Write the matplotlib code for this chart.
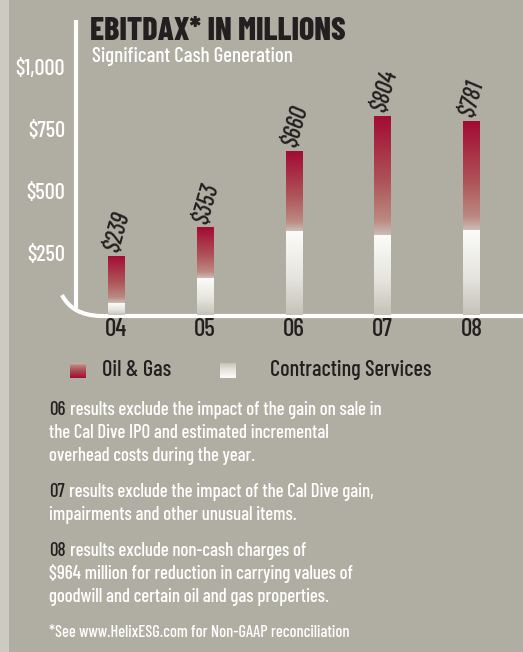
import matplotlib
matplotlib.use("Agg")
import matplotlib.pyplot as plt
from matplotlib.colors import LinearSegmentedColormap
from matplotlib.path import Path
from matplotlib.patches import PathPatch, Rectangle
import numpy as np

# ---- data
years = ["04", "05", "06", "07", "08"]
totals = [239, 353, 660, 804, 781]
contracting = [48, 149, 339, 323, 343]
oil_gas = [t - c for t, c in zip(totals, contracting)]
ytick_vals = [250, 500, 750, 1000]
ytick_labels = ["$250", "$500", "$750", "$1,000"]

BG = "#b0aea2"
STRIP = "#cdcbc1"
DARK = "#231f20"
FONT = ["Barlow Condensed", "DejaVu Sans"]
W = "medium"

fig = plt.figure(figsize=(5.23, 6.52), dpi=100, facecolor=BG)

# overlay in pixel coords for decorations
ov = fig.add_axes([0, 0, 1, 1], zorder=0)
ov.set_xlim(0, 523)
ov.set_ylim(652, 0)
ov.axis("off")
ov.add_patch(Rectangle((0, 0), 9, 652, color=STRIP, lw=0))

# axis lines
ov.plot([76, 76], [20, 308], color="white", lw=3, solid_capstyle="butt")
arc = Path([(62, 295), (72, 315), (100, 316), (523, 316)],
           [Path.MOVETO, Path.CURVE3, Path.CURVE3, Path.LINETO])
ov.add_patch(PathPatch(arc, fill=False, ec="white", lw=3))

# main chart axes
ax = fig.add_axes([72.1 / 523, 337 / 652, 443.75 / 523, 248 / 652], zorder=1)
ax.patch.set_alpha(0)
for s in ax.spines.values():
    s.set_visible(False)

og_cmap = LinearSegmentedColormap.from_list(
    "og", [(0, "#cbbdb4"), (0.12, "#bb8a82"), (0.45, "#ae5357"), (1, "#a30a33")])
cs_cmap = LinearSegmentedColormap.from_list(
    "cs", [(0, "#c5c3b8"), (0.45, "#e6e5df"), (1, "#fcfcfa")])
grad = np.linspace(0, 1, 256).reshape(-1, 1)

x = np.arange(len(years))
w = 0.19
b1 = ax.bar(x, contracting, w, color="none", lw=0)
b2 = ax.bar(x, oil_gas, w, bottom=contracting, color="none", lw=0)
for bars, cmap in ((b1, cs_cmap), (b2, og_cmap)):
    for p in bars:
        x0, y0 = p.get_x(), p.get_y()
        im = ax.imshow(grad, cmap=cmap, origin="lower", aspect="auto",
                       extent=[x0, x0 + p.get_width(), y0, y0 + p.get_height()],
                       interpolation="bilinear", zorder=2)
        im.set_clip_path(p)
ax.set_xlim(-0.5, 4.5)
ax.set_ylim(0, 1000)

for xi, t in zip(x, totals):
    ax.annotate(f"${t}", (xi, t), xytext=(-3, 3), textcoords="offset points",
                rotation=74, rotation_mode="anchor", ha="left", va="center",
                fontsize=18, style="italic", weight=W, color=DARK, family=FONT)

ax.set_yticks(ytick_vals)
ax.set_yticklabels(ytick_labels, color="white", fontsize=16, weight=W, family=FONT)
ax.set_xticks(x)
ax.set_xticklabels(years, color=DARK, fontsize=18, weight=W, family=FONT)
ax.tick_params(length=0)
ax.tick_params(axis="y", pad=5)
ax.tick_params(axis="x", pad=2)

# titles
ov.text(90, 40, "EBITDAX* IN MILLIONS", fontsize=23, fontweight="heavy",
        color=DARK, family=FONT, va="baseline")
ov.text(92, 62, "Significant Cash Generation", fontsize=15, weight=W,
        color="white", family=FONT, va="baseline")

# legend
for sx, cmap, label, tx in ((70, og_cmap, "Oil & Gas", 102),
                            (220, cs_cmap, "Contracting Services", 270)):
    ov.imshow(grad, cmap=cmap, origin="upper", aspect="auto",
              extent=[sx, sx + 16, 378, 363], interpolation="bilinear")
    ov.text(tx, 376, label, fontsize=16, weight=W, color=DARK, family=FONT,
            va="baseline")
ov.set_xlim(0, 523)
ov.set_ylim(652, 0)

# notes
notes = [
    ("06", ["results exclude the impact of the gain on sale in",
            "the Cal Dive IPO and estimated incremental",
            "overhead costs during the year."], 415),
    ("07", ["results exclude the impact of the Cal Dive gain,",
            "impairments and other unusual items."], 497),
    ("08", ["results exclude non-cash charges of",
            "$964 million for reduction in carrying values of",
            "goodwill and certain oil and gas properties."], 556),
]
for num, lines, y0 in notes:
    nt = ov.text(49, y0, num, fontsize=13.5, weight=W, color=DARK,
                 family=FONT, va="baseline")
    ov.annotate(lines[0], xy=(1, y0), xycoords=(nt, "data"), xytext=(3, 0),
                textcoords="offset points", fontsize=13.5, weight=W,
                color="white", family=FONT, va="baseline")
    for i, ln in enumerate(lines[1:], 1):
        ov.text(49, y0 + 23 * i, ln, fontsize=13.5, weight=W, color="white",
                family=FONT, va="baseline")

ov.text(49, 637, "*See www.HelixESG.com for Non-GAAP reconciliation",
        fontsize=11.8, weight=W, color="white", family=FONT, va="baseline")

fig.savefig("out.png", dpi=100, facecolor=BG)
